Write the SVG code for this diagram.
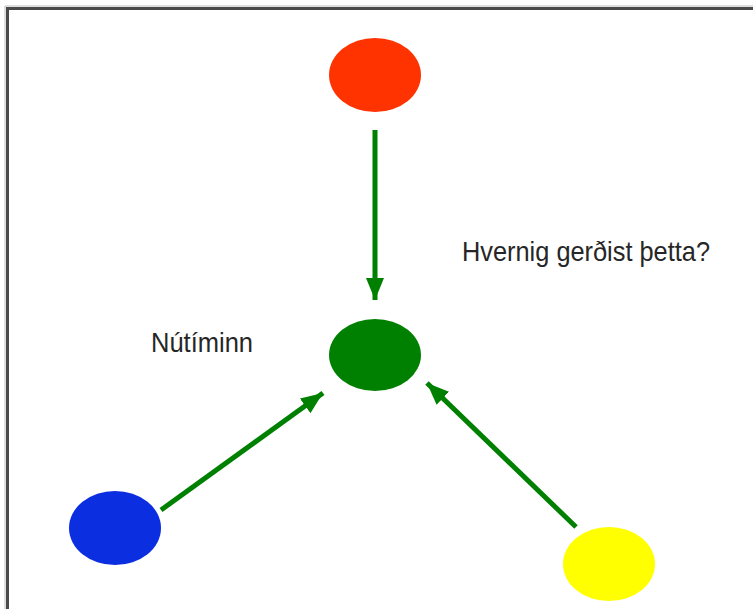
<svg xmlns="http://www.w3.org/2000/svg" width="753" height="609" viewBox="0 0 753 609">
  <style>
    .lbl { font-family: "Liberation Sans Narrow", "Liberation Sans", Arial, sans-serif; font-size: 28px; fill: #262626; }
    .conn { stroke: #008000; stroke-width: 5; fill: none; marker-end: url(#ah); }
  </style>
  <defs>
    <marker id="ah" markerUnits="userSpaceOnUse" markerWidth="22" markerHeight="18" refX="22" refY="9" orient="auto">
      <path d="M0,0 L22,9 L0,18 Z" fill="#008000"/>
    </marker>
  </defs>
  <rect width="753" height="609" fill="#ffffff"/>
  <g id="frame">
    <path d="M7.5,609 L7.5,8.5 L753,8.5" fill="none" stroke="#4a4a4a" stroke-width="3"/>
    <path d="M5,609 L5,6 L753,6" fill="none" stroke="#bdbdbd" stroke-width="1"/>
  </g>
  <g id="connectors">
    <line class="conn" x1="375" y1="130" x2="375" y2="300"/>
    <line class="conn" x1="161" y1="510" x2="323" y2="393"/>
    <line class="conn" x1="576" y1="527" x2="427" y2="383"/>
  </g>
  <g id="node-red"><ellipse cx="375" cy="75" rx="46" ry="37" fill="#ff3300"/></g>
  <g id="node-green"><ellipse cx="375" cy="355" rx="46" ry="36" fill="#008000"/></g>
  <g id="node-blue"><ellipse cx="115" cy="528" rx="46" ry="37" fill="#0a2ee0"/></g>
  <g id="node-yellow"><ellipse cx="609" cy="564" rx="46" ry="37" fill="#ffff00"/></g>
  <g id="label-question"><text class="lbl" x="462" y="261" textLength="248" lengthAdjust="spacingAndGlyphs">Hvernig gerðist þetta?</text></g>
  <g id="label-now"><text class="lbl" x="151" y="352" textLength="102" lengthAdjust="spacingAndGlyphs">Nútíminn</text></g>
</svg>
